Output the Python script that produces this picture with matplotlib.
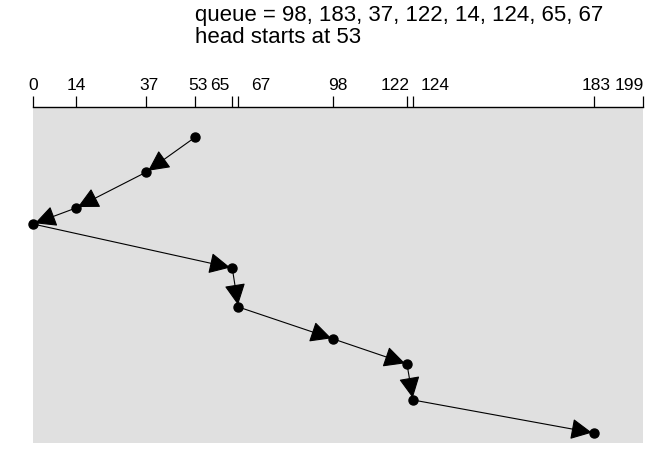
import matplotlib.pyplot as plt
from matplotlib.transforms import blended_transform_factory, offset_copy

plt.rcParams['font.family'] = ['Liberation Sans', 'DejaVu Sans']

# request queue and head movement (SCAN)
queue = [98, 183, 37, 122, 14, 124, 65, 67]
head_start = 53
cylinders = [0, 14, 37, 53, 65, 67, 98, 122, 124, 183, 199]
path = [53, 37, 14, 0, 65, 67, 98, 122, 124, 183]
# vertical position of each step (top = 0)
steps = [30, 65, 101, 117, 161, 200, 232, 257, 293, 326]

# small pixel nudges so crowded labels don't collide
nudge = {37: 3, 53: 3, 65: -12, 67: 22, 98: 4, 122: -12, 124: 22, 183: 2, 199: -14}

fig = plt.figure(figsize=(6.72, 4.54), dpi=100)
ax = fig.add_axes([33/672, 11/454, 610/672, 336/454])
ax.set_facecolor('#e0e0e0')
ax.set_xlim(0, 199)
ax.set_ylim(336, 0)

for s in ['left', 'right', 'bottom']:
    ax.spines[s].set_visible(False)
ax.spines['top'].set_linewidth(1.0)
ax.set_yticks([])
ax.xaxis.tick_top()
ax.set_xticks(cylinders, [''] * len(cylinders))
ax.tick_params(axis='x', direction='out', length=8, width=0.9)

# tick labels drawn by hand so each can be shifted a bit
trans = blended_transform_factory(ax.transData, ax.transAxes)
for c in cylinders:
    t = offset_copy(trans, fig=fig, x=nudge.get(c, 0), y=17, units='dots')
    ax.text(c, 1, str(c), transform=t, ha='center', va='baseline',
            fontsize=12.5, clip_on=False)

# path segments with arrowheads
for i in range(len(path) - 1):
    ax.annotate('', xy=(path[i+1], steps[i+1]), xytext=(path[i], steps[i]),
                arrowprops=dict(arrowstyle='-|>,head_length=0.6,head_width=0.3',
                                color='black', lw=0.8, mutation_scale=22,
                                shrinkA=0, shrinkB=1.5),
                annotation_clip=False)
ax.plot(path, steps, 'o', color='black', markersize=6.5, clip_on=False, zorder=3)

fig.text(195/672, 1 - 21/454, 'queue = ' + ', '.join(str(q) for q in queue),
         fontsize=16, ha='left', va='baseline')
fig.text(195/672, 1 - 43/454, 'head starts at %d' % head_start,
         fontsize=16, ha='left', va='baseline')

fig.savefig('out.png', dpi=100)
